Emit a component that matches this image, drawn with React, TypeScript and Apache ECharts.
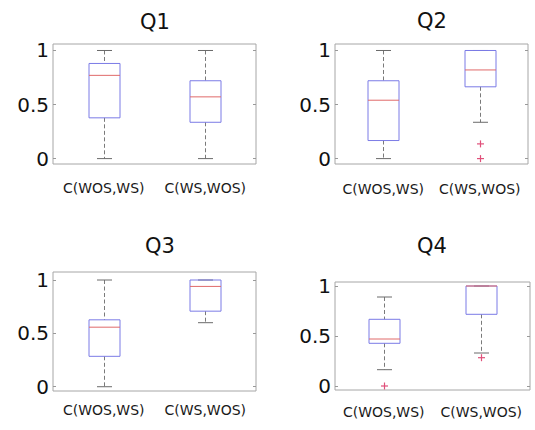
import React, { useEffect, useRef } from "react";
import * as echarts from "echarts";

const categories = ["C(WOS,WS)", "C(WS,WOS)"];
const yTicks = [0, 0.5, 1];
const titles = ["Q1", "Q2", "Q3", "Q4"];

// [min whisker, Q1, median, Q3, max whisker]
const q1Stats = [
  [0, 0.377, 0.77, 0.88, 1.0],
  [0, 0.336, 0.571, 0.72, 1.0],
];
const q2Stats = [
  [0, 0.167, 0.54, 0.72, 1.0],
  [0.336, 0.664, 0.82, 1.0, 1.0],
];
const q3Stats = [
  [0, 0.285, 0.558, 0.627, 1.0],
  [0.6, 0.708, 0.94, 1.0, 1.0],
];
const q4Stats = [
  [0.163, 0.427, 0.47, 0.667, 0.89],
  [0.33, 0.717, 1.0, 1.0, 1.0],
];
// [category index, value]
const q1Outliers: number[][] = [];
const q2Outliers = [
  [1, 0.136],
  [1, 0.0],
];
const q3Outliers: number[][] = [];
const q4Outliers = [
  [0, 0.0],
  [1, 0.283],
];

const allStats = [q1Stats, q2Stats, q3Stats, q4Stats];
const allOutliers = [q1Outliers, q2Outliers, q3Outliers, q4Outliers];

const grids = [
  { left: 53, top: 44, width: 203, height: 120 },
  { left: 335, top: 44, width: 193, height: 120 },
  { left: 53, top: 272, width: 203, height: 119 },
  { left: 335, top: 282, width: 195, height: 108 },
];
const yRanges = [
  [-0.05, 1.06],
  [-0.05, 1.06],
  [-0.04, 1.075],
  [-0.04, 1.04],
];
const xLabelMargins = [17, 18, 12, 15];
const titlePos = [
  [155, 22],
  [432, 21],
  [160, 246],
  [432, 246],
];

const FONT = "'DejaVu Sans', 'Liberation Sans', Arial, sans-serif";
const BOX_W = 31;
const CAP_W = 15;

function renderBox(params: any, api: any) {
  const x = api.value(0);
  const mn = api.coord([x, api.value(1)]);
  const q1 = api.coord([x, api.value(2)]);
  const md = api.coord([x, api.value(3)]);
  const q3 = api.coord([x, api.value(4)]);
  const mx = api.coord([x, api.value(5)]);
  const cx = Math.round(mn[0]) + 0.5;
  const hw = BOX_W / 2;
  const hc = CAP_W / 2;
  const whisk = { stroke: "#7a7a7a", lineWidth: 1, lineDash: [4, 2.5] };
  const cap = { stroke: "#6a6a6a", lineWidth: 1 };
  const children: any[] = [];
  if (q3[1] - mx[1] > 0.5) {
    children.push({ type: "line", shape: { x1: cx, y1: mx[1], x2: cx, y2: q3[1] }, style: whisk });
  }
  if (mn[1] - q1[1] > 0.5) {
    children.push({ type: "line", shape: { x1: cx, y1: q1[1], x2: cx, y2: mn[1] }, style: whisk });
  }
  children.push({ type: "line", shape: { x1: cx - hc, y1: mx[1], x2: cx + hc, y2: mx[1] }, style: cap });
  children.push({ type: "line", shape: { x1: cx - hc, y1: mn[1], x2: cx + hc, y2: mn[1] }, style: cap });
  children.push({
    type: "rect",
    shape: { x: cx - hw, y: q3[1], width: BOX_W, height: q1[1] - q3[1] },
    style: { fill: "none", stroke: "#7b7be6", lineWidth: 1 },
  });
  children.push({
    type: "line",
    shape: { x1: cx - hw, y1: md[1], x2: cx + hw, y2: md[1] },
    style: { stroke: "#e06a6a", lineWidth: 1 },
  });
  return { type: "group", children };
}

function renderPlus(params: any, api: any) {
  const p = api.coord([api.value(0), api.value(1)]);
  const cx = Math.round(p[0]) + 0.5;
  const cy = p[1];
  const s = 3.5;
  const st = { stroke: "#e0507a", lineWidth: 1.2 };
  return {
    type: "group",
    children: [
      { type: "line", shape: { x1: cx - s, y1: cy, x2: cx + s, y2: cy }, style: st },
      { type: "line", shape: { x1: cx, y1: cy - s, x2: cx, y2: cy + s }, style: st },
    ],
  };
}

export default function App() {
  const ref = useRef<HTMLDivElement>(null);
  useEffect(() => {
    if (!ref.current) return;
    const chart = echarts.init(ref.current, null, { renderer: "svg" });
    const xAxis: any[] = [];
    const yAxis: any[] = [];
    const series: any[] = [];
    grids.forEach((g, i) => {
      xAxis.push({
        type: "category",
        gridIndex: i,
        data: categories,
        boundaryGap: true,
        axisLine: { show: false },
        axisTick: { show: false },
        splitLine: { show: false },
        axisLabel: {
          interval: 0,
          hideOverlap: false,
          color: "#1a1a1a",
          fontSize: 14,
          fontFamily: FONT,
          margin: xLabelMargins[i],
        },
      });
      yAxis.push({
        type: "value",
        gridIndex: i,
        min: yRanges[i][0],
        max: yRanges[i][1],
        axisLine: { show: false },
        splitLine: { show: false },
        axisTick: { show: true, inside: true, length: 3, customValues: yTicks, lineStyle: { color: "#999" } },
        axisLabel: {
          customValues: yTicks,
          color: "#111",
          fontSize: 20,
          fontFamily: FONT,
          margin: 4,
          formatter: (v: number) => String(v),
        },
      });
      yAxis.push({
        type: "value",
        gridIndex: i,
        position: "right",
        min: yRanges[i][0],
        max: yRanges[i][1],
        axisLine: { show: false },
        splitLine: { show: false },
        axisTick: { show: true, inside: true, length: 3, customValues: yTicks, lineStyle: { color: "#999" } },
        axisLabel: { show: false },
      });
      series.push({
        type: "custom",
        xAxisIndex: i,
        yAxisIndex: i * 2,
        renderItem: renderBox,
        encode: { x: 0, y: [1, 2, 3, 4, 5] },
        data: allStats[i].map((s, k) => [k, ...s]),
        silent: true,
      });
      if (allOutliers[i].length) {
        series.push({
          type: "custom",
          xAxisIndex: i,
          yAxisIndex: i * 2,
          renderItem: renderPlus,
          encode: { x: 0, y: 1 },
          data: allOutliers[i],
          silent: true,
        });
      }
    });
    chart.setOption({
      animation: false,
      backgroundColor: "#ffffff",
      grid: grids.map((g) => ({ ...g, show: true, borderColor: "#a6a6a6", borderWidth: 1, backgroundColor: "transparent" })),
      xAxis,
      yAxis,
      series,
      graphic: titles.map((t, i) => ({
        type: "text",
        x: titlePos[i][0],
        y: titlePos[i][1],
        style: {
          text: t,
          fontSize: 21,
          fontFamily: FONT,
          fill: "#111",
          textAlign: "center",
          textVerticalAlign: "middle",
        },
      })),
    });
    return () => chart.dispose();
  }, []);
  return <div ref={ref} style={{ width: 535, height: 430, position: "absolute", left: 0, top: 0 }} />;
}
